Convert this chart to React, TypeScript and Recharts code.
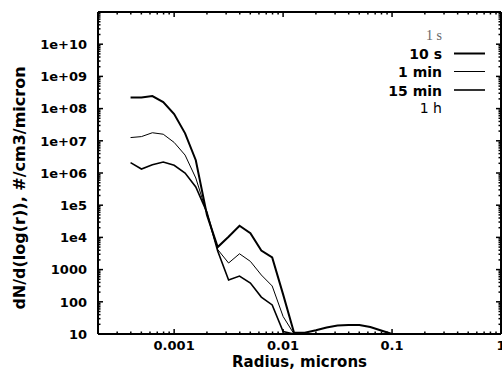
import React from "react";
import { LineChart, Line, XAxis, YAxis, Legend, Label } from "recharts";

// ---- data ----
const radius = [
  0.000398, 0.000501, 0.000631, 0.000794, 0.001, 0.00126, 0.00158, 0.002,
  0.00251, 0.00316, 0.00398, 0.00501, 0.00631, 0.00794, 0.01, 0.0126,
  0.0158, 0.02, 0.0251, 0.0316, 0.0398, 0.0501, 0.0631, 0.0794, 0.1,
];
const s10 = [
  2.2e8, 2.2e8, 2.45e8, 1.6e8, 6.8e7, 1.7e7, 2.5e6, 5e4,
  5e3, 1.05e4, 2.3e4, 1.35e4, 3.9e3, 2.4e3, 170, 11,
  11, 13, 16, 18.4, 19, 19, 16.5, 12.8, 10,
];
const min1 = [
  1.26e7, 1.35e7, 1.78e7, 1.6e7, 8.9e6, 3.6e6, 7e5, 5.5e4,
  4.2e3, 1.6e3, 3.1e3, 1.8e3, 680, 310, 35, 10,
  null, null, null, null, null, null, null, null, null,
];
const min15 = [
  2.1e6, 1.33e6, 1.8e6, 2.2e6, 1.74e6, 1e6, 3.7e5, 6e4,
  3.8e3, 475, 630, 380, 140, 80, 12, 10,
  null, null, null, null, null, null, null, null, null,
];

const legendNames = ["1 s", "10 s", "1 min", "15 min", "1 h"];

const xMajor = [0.001, 0.01, 0.1, 1];
const xMajorLabels = ["0.001", "0.01", "0.1", "1"];
const yMajor = [10, 100, 1000, 1e4, 1e5, 1e6, 1e7, 1e8, 1e9, 1e10, 1e11];
const yMajorLabels = ["10", "100", "1000", "1e4", "1e5", "1e+06", "1e+07", "1e+08", "1e+09", "1e+10", ""];
const minorMultipliers = [2, 3, 4, 5, 6, 7, 8, 9];
const xDecades = [1e-4, 1e-3, 1e-2, 1e-1];
const yDecades = [10, 100, 1000, 1e4, 1e5, 1e6, 1e7, 1e8, 1e9, 1e10];

const X_DOMAIN: [number, number] = [0.0002, 1];
const Y_DOMAIN: [number, number] = [10, 1e11];

const data = radius.map((r, i) => ({
  r,
  s10: s10[i],
  min1: min1[i],
  min15: min15[i],
}));

const inRange = (v: number, d: [number, number]) => v >= d[0] * 0.9999 && v <= d[1] * 1.0001;

const xTicks = [
  ...xMajor,
  ...xDecades.flatMap((d) => minorMultipliers.map((m) => +(m * d).toPrecision(6))),
].filter((v) => inRange(v, X_DOMAIN)).sort((a, b) => a - b);

const yTicks = [
  ...yMajor,
  ...yDecades.flatMap((d) => minorMultipliers.map((m) => m * d)),
].filter((v) => inRange(v, Y_DOMAIN)).sort((a, b) => a - b);

const isDecade = (v: number) => Math.abs(Math.log10(v) - Math.round(Math.log10(v))) < 1e-6;

const FONT = "'DejaVu Sans', sans-serif";
const MAJ = 5;
const MIN = 2.5;

function labelFor(v: number, majors: number[], labels: string[]) {
  for (let i = 0; i < majors.length; i++) {
    if (Math.abs(majors[i] - v) / majors[i] < 1e-6) return labels[i];
  }
  return "";
}

const BottomTick = (props: any) => {
  const { x, y, payload } = props;
  const v = payload.value;
  const major = isDecade(v);
  const label = major ? labelFor(v, xMajor, xMajorLabels) : "";
  return (
    <g>
      <line x1={x} x2={x} y1={y} y2={y - (major ? MAJ : MIN)} stroke="#000" strokeWidth={1.5} />
      {label && (
        <text x={x} y={y + 16} textAnchor="middle" fontFamily={FONT} fontWeight="bold" fontSize={13} fill="#000">
          {label}
        </text>
      )}
    </g>
  );
};

const TopTick = (props: any) => {
  const { x, y, payload } = props;
  const major = isDecade(payload.value);
  return <line x1={x} x2={x} y1={y} y2={y + (major ? MAJ : MIN)} stroke="#000" strokeWidth={1.5} />;
};

const LeftTick = (props: any) => {
  const { x, y, payload } = props;
  const v = payload.value;
  const major = isDecade(v);
  const label = major ? labelFor(v, yMajor, yMajorLabels) : "";
  return (
    <g>
      <line x1={x} x2={x + (major ? MAJ : MIN)} y1={y} y2={y} stroke="#000" strokeWidth={1.5} />
      {label && (
        <text x={x - 11} y={y + 4.7} textAnchor="end" fontFamily={FONT} fontWeight="bold" fontSize={13} fill="#000">
          {label}
        </text>
      )}
    </g>
  );
};

const RightTick = (props: any) => {
  const { x, y, payload } = props;
  const major = isDecade(payload.value);
  return <line x1={x} x2={x - (major ? MAJ : MIN)} y1={y} y2={y} stroke="#000" strokeWidth={1.5} />;
};

const legendStyles = [
  { family: "'Liberation Serif', serif", weight: "normal", color: "#666", size: 14, line: 0, baseline: 40 },
  { family: FONT, weight: "bold", color: "#000", size: 14, line: 2, baseline: 59 },
  { family: FONT, weight: "bold", color: "#000", size: 14, line: 1, baseline: 77 },
  { family: FONT, weight: "bold", color: "#000", size: 14, line: 1.6, baseline: 95.5 },
  { family: FONT, weight: "normal", color: "#000", size: 14, line: 0, baseline: 113 },
];

const LegendContent = () => (
  <svg width={502} height={130} style={{ display: "block" }}>
    {legendNames.map((name, i) => {
      const s = legendStyles[i];
      return (
        <g key={name}>
          <text x={442} y={s.baseline} textAnchor="end" fontFamily={s.family} fontWeight={s.weight} fontSize={s.size} fill={s.color}>
            {name}
          </text>
          {s.line > 0 && (
            <line x1={454} x2={485} y1={s.baseline - 5.5} y2={s.baseline - 5.5} stroke="#000" strokeWidth={s.line} />
          )}
        </g>
      );
    })}
  </svg>
);

const YLabel = (props: any) => {
  const vb = props.viewBox || { x: 0, y: 12, width: 98, height: 322 };
  const cx = 19;
  const cy = vb.y + vb.height / 2 + 15;
  return (
    <text
      x={cx}
      y={cy}
      transform={`rotate(-90 ${cx} ${cy})`}
      textAnchor="middle"
      dominantBaseline="central"
      fontFamily={FONT}
      fontWeight="bold"
      fontSize={16}
      fill="#000"
    >
      dN/d(log(r)), #/cm3/micron
    </text>
  );
};

const XLabel = (props: any) => {
  const vb = props.viewBox || { x: 98, y: 334, width: 403, height: 49 };
  return (
    <text x={vb.x + vb.width / 2} y={367} textAnchor="middle" fontFamily={FONT} fontWeight="bold" fontSize={15} fill="#000">
      Radius, microns
    </text>
  );
};

export default function App() {
  return (
    <div style={{ position: "absolute", left: 0, top: 0, width: 502, height: 383, background: "#fff" }}>
      <LineChart width={502} height={383} data={data} margin={{ top: 11, right: 0, bottom: 0, left: 0 }}>
        <XAxis
          xAxisId="b"
          dataKey="r"
          type="number"
          scale="log"
          domain={X_DOMAIN}
          allowDataOverflow
          ticks={xTicks}
          interval={0}
          tick={<BottomTick />}
          tickLine={false}
          tickSize={0}
          tickMargin={0}
          height={49}
          axisLine={{ stroke: "#000", strokeWidth: 2 }}
        >
          <Label content={<XLabel />} />
        </XAxis>
        <XAxis
          xAxisId="t"
          orientation="top"
          dataKey="r"
          type="number"
          scale="log"
          domain={X_DOMAIN}
          allowDataOverflow
          ticks={xTicks}
          interval={0}
          tick={<TopTick />}
          tickLine={false}
          tickSize={0}
          tickMargin={0}
          height={1}
          axisLine={{ stroke: "#000", strokeWidth: 2 }}
        />
        <YAxis
          yAxisId="l"
          type="number"
          scale="log"
          domain={Y_DOMAIN}
          allowDataOverflow
          ticks={yTicks}
          interval={0}
          tick={<LeftTick />}
          tickLine={false}
          tickSize={0}
          tickMargin={0}
          width={98}
          axisLine={{ stroke: "#000", strokeWidth: 2 }}
        >
          <Label content={<YLabel />} />
        </YAxis>
        <YAxis
          yAxisId="r"
          orientation="right"
          type="number"
          scale="log"
          domain={Y_DOMAIN}
          allowDataOverflow
          ticks={yTicks}
          interval={0}
          tick={<RightTick />}
          tickLine={false}
          tickSize={0}
          tickMargin={0}
          width={1}
          axisLine={{ stroke: "#000", strokeWidth: 2 }}
        />
        <Line xAxisId="b" yAxisId="l" dataKey="s10" name="10 s" stroke="#000" strokeWidth={2} dot={false} isAnimationActive={false} type="linear" />
        <Line xAxisId="t" yAxisId="r" dataKey="min1" name="1 min" stroke="#000" strokeWidth={1} dot={false} isAnimationActive={false} type="linear" />
        <Line xAxisId="b" yAxisId="l" dataKey="min15" name="15 min" stroke="#000" strokeWidth={1.6} dot={false} isAnimationActive={false} type="linear" />
        <Legend
          layout="horizontal"
          verticalAlign="middle"
          align="center"
          content={<LegendContent />}
          wrapperStyle={{ position: "absolute", left: 0, top: 0, width: 502, height: 130, pointerEvents: "none" }}
        />
      </LineChart>
    </div>
  );
}
